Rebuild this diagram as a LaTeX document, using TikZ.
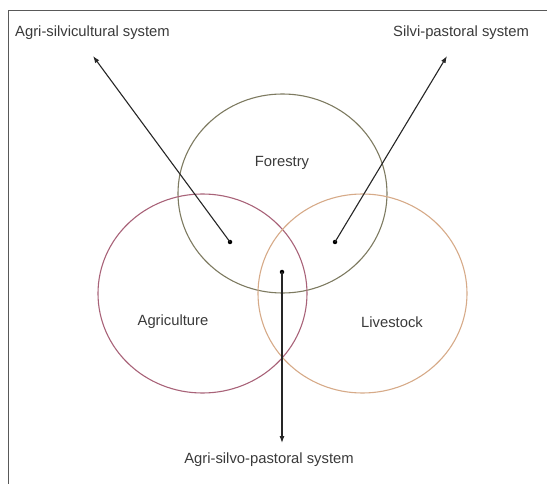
\documentclass[tikz,border=0pt]{standalone}
\usepackage{fontspec}
\setmainfont{Liberation Sans}
\usetikzlibrary{shapes.geometric,arrows.meta}
\definecolor{forcol}{HTML}{7D7A60}
\definecolor{agrcol}{HTML}{A86278}
\definecolor{livcol}{HTML}{D6AA88}
\definecolor{txtcol}{HTML}{3A3A3A}
\tikzset{
  setbox/.style={ellipse, draw, line width=1.1pt, minimum width=209pt, minimum height=199pt, inner sep=0pt},
  lbl/.style={font=\fontsize{14.8}{17}\selectfont, text=txtcol, inner sep=0pt},
  dotnode/.style={circle, fill=black, minimum size=4.5pt, inner sep=0pt},
  arr/.style={line width=1.1pt, draw=black!85, -{Latex[length=7pt,width=5pt]}}
}
\begin{document}
\begin{tikzpicture}[x=1pt,y=-1pt]
\useasboundingbox (0,0) rectangle (547,484);
\draw[line width=1pt, black!65] (8,484) -- (8,11) -- (547,11);
\node[setbox, draw=forcol] (forestry) at (282.5,193.5) {};
\node[setbox, draw=agrcol] (agri) at (202.5,293.5) {};
\node[setbox, draw=livcol] (live) at (362.5,293.5) {};
\node[lbl] (tf) at (282,163) {Forestry};
\node[lbl] (ta) at (173,322) {Agriculture};
\node[lbl] (tl) at (392,322) {Livestock};
\node[dotnode] (d1) at (230,242) {};
\node[dotnode] (d2) at (335,242) {};
\node[dotnode] (d3) at (282,272) {};
\node[lbl, anchor=west] (asv) at (15,33) {Agri-silvicultural system};
\node[lbl, anchor=west] (sps) at (393,33) {Silvi-pastoral system};
\node[lbl] (asp) at (269,460) {Agri-silvo-pastoral system};
\coordinate (t1) at (93,56);
\coordinate (t2) at (447,56);
\coordinate (t3) at (282,443);
\draw[arr] (d1.center) -- (t1);
\draw[arr] (d2.center) -- (t2);
\draw[arr] (d3.center) -- (t3);
\end{tikzpicture}
\end{document}
